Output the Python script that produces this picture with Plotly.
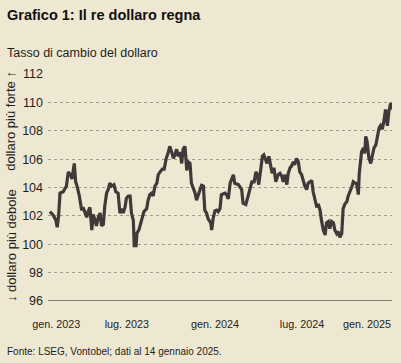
import plotly.graph_objects as go

dates = [
    "2023-01-03", "2023-01-10", "2023-01-16", "2023-01-19", "2023-01-22", "2023-01-25",
    "2023-02-01", "2023-02-05", "2023-02-08", "2023-02-12", "2023-02-17", "2023-02-20",
    "2023-02-25", "2023-02-28", "2023-03-03", "2023-03-08", "2023-03-13", "2023-03-16",
    "2023-03-20", "2023-03-24", "2023-03-27", "2023-03-31", "2023-04-04", "2023-04-07",
    "2023-04-11", "2023-04-14", "2023-04-18", "2023-04-22", "2023-04-25", "2023-04-29",
    "2023-05-02", "2023-05-06", "2023-05-10", "2023-05-13", "2023-05-17", "2023-05-22",
    "2023-05-26", "2023-05-31", "2023-06-04", "2023-06-08", "2023-06-11", "2023-06-15",
    "2023-06-18", "2023-06-22", "2023-06-26", "2023-06-29", "2023-07-03", "2023-07-05",
    "2023-07-09", "2023-07-11", "2023-07-15", "2023-07-19", "2023-07-22", "2023-07-26",
    "2023-08-01", "2023-08-04", "2023-08-08", "2023-08-12", "2023-08-15", "2023-08-19",
    "2023-08-23", "2023-08-26", "2023-08-30", "2023-09-04", "2023-09-08", "2023-09-12",
    "2023-09-17", "2023-09-20", "2023-09-24", "2023-09-28", "2023-10-01", "2023-10-05",
    "2023-10-08", "2023-10-12", "2023-10-16", "2023-10-19", "2023-10-23", "2023-10-27",
    "2023-10-30", "2023-11-03", "2023-11-06", "2023-11-10", "2023-11-14", "2023-11-17",
    "2023-11-21", "2023-11-24", "2023-11-28", "2023-12-02", "2023-12-05", "2023-12-09",
    "2023-12-12", "2023-12-18", "2023-12-20", "2023-12-23", "2023-12-27", "2023-12-31",
    "2024-01-03", "2024-01-07", "2024-01-10", "2024-01-18", "2024-01-21", "2024-01-25",
    "2024-01-29", "2024-02-05", "2024-02-08", "2024-02-16", "2024-02-19", "2024-02-23",
    "2024-02-26", "2024-03-03", "2024-03-08", "2024-03-12", "2024-03-16", "2024-03-21",
    "2024-03-25", "2024-03-28", "2024-03-31", "2024-04-04", "2024-04-08", "2024-04-11",
    "2024-04-15", "2024-04-18", "2024-04-22", "2024-04-26", "2024-04-29", "2024-05-03",
    "2024-05-07", "2024-05-12", "2024-05-16", "2024-05-20", "2024-05-23", "2024-05-27",
    "2024-05-31", "2024-06-03", "2024-06-07", "2024-06-10", "2024-06-14", "2024-06-17",
    "2024-06-21", "2024-06-25", "2024-06-28", "2024-07-02", "2024-07-05", "2024-07-09",
    "2024-07-13", "2024-07-16", "2024-07-20", "2024-07-24", "2024-07-27", "2024-07-31",
    "2024-08-04", "2024-08-07", "2024-08-11", "2024-08-14", "2024-08-18", "2024-08-22",
    "2024-08-25", "2024-08-29", "2024-09-01", "2024-09-05", "2024-09-09", "2024-09-12",
    "2024-09-16", "2024-09-19", "2024-09-23", "2024-09-27", "2024-09-30", "2024-10-04",
    "2024-10-08", "2024-10-11", "2024-10-15", "2024-10-19", "2024-10-22", "2024-10-26",
    "2024-10-29", "2024-11-02", "2024-11-04", "2024-11-09", "2024-11-13", "2024-11-16",
    "2024-11-18", "2024-11-21", "2024-11-25", "2024-11-29", "2024-12-02", "2024-12-06",
    "2024-12-10", "2024-12-13", "2024-12-17", "2024-12-20", "2024-12-24", "2024-12-28",
    "2024-12-31", "2025-01-04", "2025-01-07", "2025-01-11", "2025-01-14",
]

dollar_index = [
    102.3, 102.06, 101.7, 101.2, 102.0, 103.6,
    103.7, 104.0, 104.1, 105.1, 104.9, 104.6,
    105.7, 104.4, 104.1, 103.4, 102.4, 102.6,
    102.2, 101.9, 102.3, 102.6, 101.0, 102.1,
    101.7, 101.3, 101.9, 102.2, 101.3, 101.4,
    102.65, 103.6, 103.9, 104.3, 104.1, 104.2,
    103.7, 103.6, 102.2, 102.5, 102.2, 102.6,
    103.25, 103.4, 103.4, 102.2, 101.7, 99.9,
    99.9, 100.8, 101.0, 101.5, 101.9, 102.3,
    102.5, 103.1, 103.5, 103.6, 103.4, 104.1,
    104.3, 104.9, 105.1, 105.3, 105.3, 106.0,
    106.5, 106.9, 106.5, 106.05, 106.3, 106.7,
    106.2, 106.5, 105.7, 106.7, 106.9, 105.2,
    105.8, 105.7, 104.3, 104.0, 103.6, 103.1,
    103.5, 103.9, 104.15, 104.1, 102.4, 102.2,
    101.8, 101.5, 101.0, 101.8, 102.35, 102.4,
    102.3, 102.5, 103.5, 103.6, 103.5, 103.2,
    104.3, 104.9, 104.3, 104.2, 104.0, 103.85,
    102.9, 102.8, 103.4, 103.85, 104.4, 104.4,
    105.1, 104.9, 104.2, 105.2, 106.2, 106.3,
    106.0, 105.7, 106.2, 105.45, 105.0, 105.4,
    104.4, 104.9, 105.0, 104.8, 104.4, 104.9,
    104.2, 105.0, 105.4, 105.5, 105.8, 105.6,
    106.05, 105.8, 105.1, 104.9, 104.5, 104.1,
    103.85, 104.3, 104.4, 104.5, 103.7, 103.0,
    102.6, 102.85, 102.4, 101.7, 101.0, 100.65,
    101.5, 101.6, 101.1, 101.6, 101.5, 101.0,
    100.75, 100.9, 100.5, 100.75, 102.5, 102.85,
    103.0, 103.4, 103.7, 104.05, 104.4, 104.3,
    104.3, 103.5, 105.0, 106.5, 106.8, 106.4,
    107.6, 107.25, 106.05, 105.7, 106.2, 106.8,
    107.0, 107.5, 108.2, 108.35, 108.1, 108.8,
    109.5, 108.35, 109.3, 109.95, 109.5,
]

y_ticks = [96, 98, 100, 102, 104, 106, 108, 110, 112]
x_tick_dates = ["2023-01-17", "2023-06-19", "2023-12-27", "2024-07-03", "2024-11-21"]
x_tick_labels = ["gen. 2023", "lug. 2023", "gen. 2024", "lug. 2024", "gen. 2025"]

title_text = "Grafico 1: Il re dollaro regna"
subtitle_text = "Tasso di cambio del dollaro"
source_text = "Fonte: LSEG, Vontobel; dati al 14 gennaio 2025."
up_label = "dollaro più forte ↑"
down_label = "↓ dollaro più debole"

BG = "#EEE7D1"
FONT = "Liberation Sans, Arial, sans-serif"

fig = go.Figure()
fig.add_trace(go.Scatter(
    x=dates, y=dollar_index, mode="lines",
    line=dict(color="#3f3a39", width=3.2),
    hoverinfo="skip", showlegend=False,
))

# solid baseline at 96
fig.add_shape(type="line", xref="paper", yref="y", x0=0, x1=1, y0=96, y1=96,
              line=dict(color="#5c5b4f", width=1.5), layer="below")

fig.update_layout(
    width=401, height=363,
    paper_bgcolor=BG, plot_bgcolor=BG,
    margin=dict(l=48, r=9, t=74, b=62),
    font=dict(family=FONT, color="#1e1e1e", size=12),
    showlegend=False,
    xaxis=dict(
        type="date",
        range=["2022-12-30", "2025-01-14"],
        tickvals=x_tick_dates, ticktext=x_tick_labels,
        showgrid=False, zeroline=False, showline=False,
        ticks="", tickfont=dict(size=10.8, color="#1e1e1e"),
        ticklabelstandoff=15,
        fixedrange=True,
    ),
    yaxis=dict(
        range=[96, 112],
        tickvals=y_ticks,
        showgrid=True, gridcolor="#8d8a7c", griddash="dot", gridwidth=0.8,
        zeroline=False, showline=False, ticks="",
        tickfont=dict(size=12.5, color="#1e1e1e"),
        ticklabelstandoff=4,
        fixedrange=True,
    ),
    annotations=[
        dict(text="<b>" + title_text + "</b>", xref="paper", yref="paper",
             x=-0.125, y=1.0, xanchor="left", yanchor="middle",
             yshift=74 - 14.5, showarrow=False,
             font=dict(size=14.5, color="#111111")),
        dict(text=subtitle_text, xref="paper", yref="paper",
             x=-0.125, y=1.0, xanchor="left", yanchor="middle",
             yshift=74 - 53, showarrow=False,
             font=dict(size=12.5, color="#1e1e1e")),
        dict(text=source_text, xref="paper", yref="paper",
             x=-0.125, y=0.0, xanchor="left", yanchor="middle",
             yshift=-(351 - 301), showarrow=False,
             font=dict(size=10, color="#1e1e1e")),
        dict(text=up_label, xref="paper", yref="y",
             x=0, xshift=-37, y=108.7, textangle=-90,
             xanchor="center", yanchor="middle", showarrow=False,
             font=dict(size=13, color="#1e1e1e")),
        dict(text=down_label, xref="paper", yref="y",
             x=0, xshift=-37, y=99.87, textangle=-90,
             xanchor="center", yanchor="middle", showarrow=False,
             font=dict(size=13, color="#1e1e1e")),
    ],
)

fig.write_html(
    "out.html",
    config={"displayModeBar": False, "staticPlot": True},
    post_script="document.body.style.margin='0';document.body.style.overflow='hidden';",
)
